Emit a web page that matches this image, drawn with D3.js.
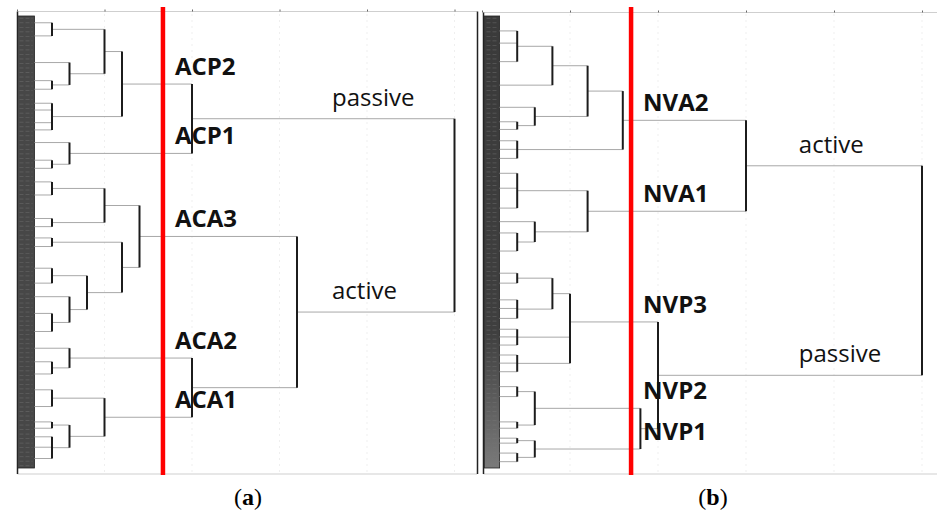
<!DOCTYPE html>
<html>
<head>
<meta charset="utf-8">
<title>dendrograms</title>
<style>
body { margin: 0; background: #fff; }
.hl { stroke: #a8a8a8; stroke-width: 1; }
.vl { stroke: #1c1c1c; stroke-width: 2; }
.cut { stroke: #ff0000; stroke-width: 4.5; }
.frame { stroke: #cfcfcf; stroke-width: 1; }
.edge { stroke: #222; stroke-width: 1.5; }
.grid { stroke: #efefef; stroke-width: 1; stroke-dasharray: 2,4; }
.clab { font-family: "Open Sans"; font-weight: 700; font-size: 24px; fill: #111; }
.glab { font-family: "Open Sans"; font-size: 24px; fill: #111; }
.cap { font-family: "Liberation Serif"; font-size: 24px; fill: #000; }
</style>
</head>
<body>
<svg width="937" height="513"></svg>
<script src="https://d3js.org/d3.v7.min.js"></script>
<script>
// n(height, ...children): numbers are leaf rows (case order), objects are sub-clusters
function n(h, ...kids) {
    return {h: h, children: kids.map(k => typeof k === "number" ? {row: k} : k)};
}

// ---- panel (a) ----
var acp2 = n(6, n(5, n(2, 1.5, 4.4), n(3, 10.3, n(2, 14.3, 16.2))), n(2, 19.3, 20.8, 23.6, 25.2));
var acp1 = n(3, 28.0, n(2, 31.9, 33.7));
var aca3 = n(7, n(5, n(2, 36.7, 39.6), n(2, 44.8, 46.6)),
                n(6, n(2, 49.1, 51.0), n(4, n(2, 55.8, 59.1), n(3, 62.1, n(2, 65.8, 69.8)))));
var aca2 = n(3, 73.5, n(2, 76.5, 79.2));
var aca1 = n(5, n(2, 82.7, 86.4), n(3, n(2, 89.8, 91.2), n(2, 93.1, 95.4, 97.9)));
var passiveA = n(10, acp2, acp1);
var activeA = n(16, aca3, n(10, aca2, aca1));
var rootA = n(25, passiveA, activeA);
var clustersA = [acp2, acp1, aca3, aca2, aca1];
var clusterNamesA = ["ACP2", "ACP1", "ACA3", "ACA2", "ACA1"];
var groupsA = [passiveA, activeA];
var groupNamesA = ["passive", "active"];
var cutA = 8.34;

// ---- panel (b) ----
var nva2 = n(8, n(6, n(4, n(2, 3.3, 6.0, 10.1), 15.3), n(3, 20.2, n(2, 23.4, 25.1))), n(2, 27.6, 29.5, 31.5));
var nva1 = n(6, n(2, 34.8, 38.1, 42.5), n(3, 45.5, n(2, 48.0, 52.0)));
var nvp3 = n(5, n(4, n(2, 56.9, 59.1), n(2, 62.8, 64.7, 66.9)),
                n(5, n(2, 69.3, 71.0, 72.8), n(2, 75.0, 76.8, 78.7)));
var nvp2 = n(3, n(2, 82.0, 84.2), n(2, 89.8, 91.2));
var nvp1 = n(3, n(2, 93.4, 94.5), n(2, 96.7, 98.6));
var activeB = n(15, nva2, nva1);
var passiveB = n(10, nvp3, n(9, nvp2, nvp1));
var rootB = n(25, activeB, passiveB);
var clustersB = [nva2, nva1, nvp3, nvp2, nvp1];
var clusterNamesB = ["NVA2", "NVA1", "NVP3", "NVP2", "NVP1"];
var groupsB = [activeB, passiveB];
var groupNamesB = ["active", "passive"];
var cutB = 8.47;

var nCases = 100;
var distTicks = [0, 5, 10, 15, 20, 25];

var svg = d3.select("svg");
var yRow = d3.scaleLinear().domain([0, nCases]).range([16, 468]);

// gradient for the case bar of panel (b): darker top, lighter bottom
var grad = svg.append("defs").append("linearGradient")
    .attr("id", "barB").attr("x1", 0).attr("x2", 0).attr("y1", 0).attr("y2", 1);
grad.append("stop").attr("offset", "0%").attr("stop-color", "#3a3a3a");
grad.append("stop").attr("offset", "70%").attr("stop-color", "#3f3f3f");
grad.append("stop").attr("offset", "100%").attr("stop-color", "#7a7a7a");

function drawPanel(opt) {
    var x = opt.x;
    var g = svg.append("g");

    // faint dotted grid
    g.selectAll(".grid").data(distTicks.slice(1)).enter().append("line")
        .attr("class", "grid")
        .attr("x1", d => x(d)).attr("x2", d => x(d))
        .attr("y1", 14).attr("y2", 472);

    // frame
    g.append("line").attr("class", "frame")
        .attr("x1", opt.left).attr("x2", opt.right).attr("y1", opt.top).attr("y2", opt.top);
    g.append("line").attr("class", "frame")
        .attr("x1", opt.left).attr("x2", opt.right).attr("y1", 474).attr("y2", 474);
    g.append("line").attr("class", "edge")
        .attr("x1", opt.left).attr("x2", opt.left).attr("y1", opt.top).attr("y2", 474);

    var ax = g.append("g").attr("transform", "translate(0," + opt.top + ")")
        .call(d3.axisTop(x).tickValues(distTicks).tickSize(2).tickSizeOuter(0).tickFormat(""));
    ax.select(".domain").remove();
    ax.selectAll(".tick line").attr("stroke", "#666");

    // case label bar
    var bar = g.append("g");
    bar.append("rect")
        .attr("x", opt.barX).attr("width", x(1) - opt.barX)
        .attr("y", yRow(0)).attr("height", yRow(nCases) - yRow(0))
        .attr("fill", opt.barFill).attr("stroke", "#222").attr("stroke-width", 0.8);
    bar.selectAll("line").data(d3.range(nCases)).enter().append("line")
        .attr("x1", opt.barX + 2).attr("x2", x(1) - 2)
        .attr("y1", d => yRow(d + 0.5)).attr("y2", d => yRow(d + 0.5))
        .attr("stroke", "#7a7a7a").attr("stroke-width", 0.6)
        .attr("stroke-dasharray", "4,2").attr("opacity", 0.7);

    // hierarchy
    var root = d3.hierarchy(opt.root);
    root.eachAfter(d => {
        if (!d.children) d.py = yRow(d.data.row);
        else d.py = (d.children[0].py + d.children[d.children.length - 1].py) / 2;
    });

    g.selectAll(".hl").data(root.descendants().filter(d => d.parent)).enter().append("line")
        .attr("class", "hl")
        .attr("x1", d => x(d.children ? d.data.h : 1))
        .attr("x2", d => x(d.parent.data.h))
        .attr("y1", d => d.py).attr("y2", d => d.py);

    g.selectAll(".vl").data(root.descendants().filter(d => d.children)).enter().append("line")
        .attr("class", "vl")
        .attr("x1", d => x(d.data.h)).attr("x2", d => x(d.data.h))
        .attr("y1", d => d.children[0].py)
        .attr("y2", d => d.children[d.children.length - 1].py);

    // cut line
    g.append("line").attr("class", "cut")
        .attr("x1", x(opt.cut)).attr("x2", x(opt.cut))
        .attr("y1", 7).attr("y2", 475);

    function nodeOf(obj) { return root.descendants().find(d => d.data === obj); }

    g.selectAll(".clab").data(opt.clusters).enter().append("text")
        .attr("class", "clab")
        .attr("x", x(opt.cut) + 12)
        .attr("y", d => nodeOf(d).py - 9)
        .text((d, i) => opt.clusterNames[i]);

    g.selectAll(".glab").data(opt.groups).enter().append("text")
        .attr("class", "glab")
        .attr("x", x(18))
        .attr("y", d => nodeOf(d).py - 13)
        .text((d, i) => opt.groupNames[i]);

    // caption
    var cap = svg.append("text").attr("class", "cap")
        .attr("x", opt.capX).attr("y", 505).attr("text-anchor", "middle");
    cap.append("tspan").text("(");
    cap.append("tspan").attr("font-weight", 700).text(opt.letter);
    cap.append("tspan").text(")");
}

drawPanel({
    x: d3.scaleLinear().domain([0, 25]).range([17, 454.5]),
    root: rootA, cut: cutA,
    clusters: clustersA, clusterNames: clusterNamesA,
    groups: groupsA, groupNames: groupNamesA,
    left: 17.5, right: 477, top: 11.5, barX: 17.5, barFill: "#474747",
    capX: 248, letter: "a"
});

drawPanel({
    x: d3.scaleLinear().domain([0, 25]).range([482, 922]),
    root: rootB, cut: cutB,
    clusters: clustersB, clusterNames: clusterNamesB,
    groups: groupsB, groupNames: groupNamesB,
    left: 483.5, right: 937, top: 12.5, barX: 484.5, barFill: "url(#barB)",
    capX: 713, letter: "b"
});

// right edge of panel (a)
svg.append("line").attr("class", "edge")
    .attr("x1", 477.5).attr("x2", 477.5).attr("y1", 11.5).attr("y2", 474)
    .attr("stroke-width", 2);
</script>
</body>
</html>
